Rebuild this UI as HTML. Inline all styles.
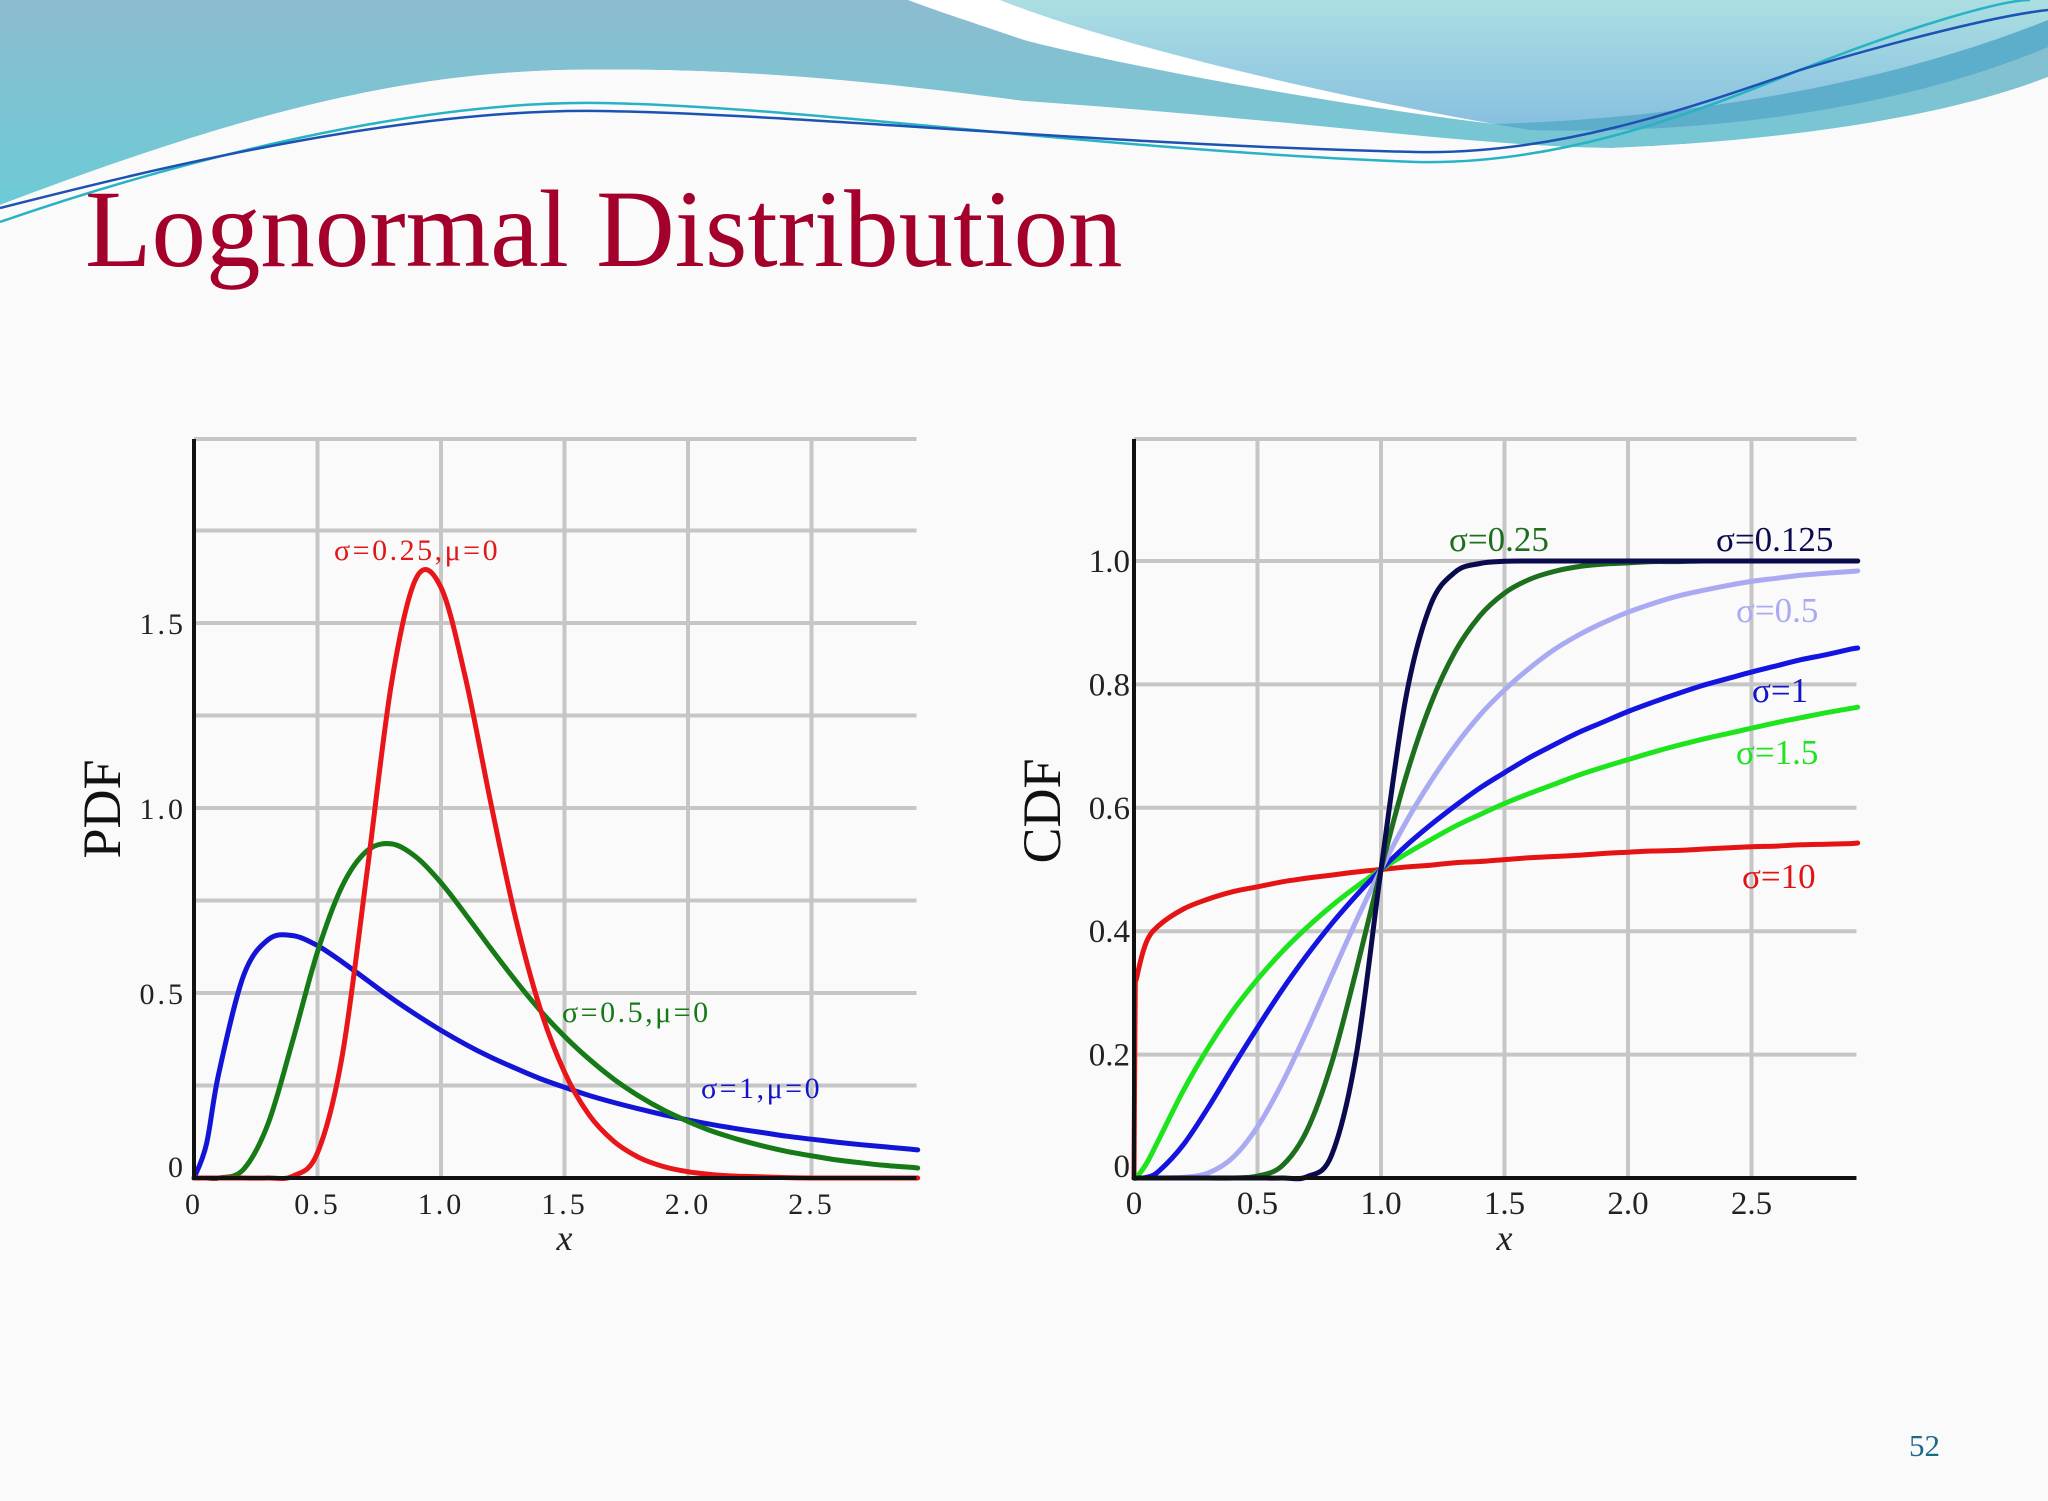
<!DOCTYPE html>
<html><head><meta charset="utf-8"><title>Lognormal Distribution</title>
<style>
html,body{margin:0;padding:0;background:#fafafa;}
#page{position:relative;width:2048px;height:1501px;overflow:hidden;background:#fafafa;font-family:"Liberation Serif",serif;}
svg{position:absolute;left:0;top:0;}
</style></head>
<body>
<div id="page">
<svg id="deco" width="2048" height="1501" viewBox="0 0 2048 1501">
<defs>
<linearGradient id="gTop" x1="0" y1="0" x2="0" y2="1"><stop offset="0" stop-color="#8cbccf"/><stop offset="1" stop-color="#6ccbd6"/></linearGradient>
<linearGradient id="gAqua" x1="0" y1="0" x2="0" y2="1"><stop offset="0" stop-color="#abdfe2"/><stop offset="1" stop-color="#88c0e0"/></linearGradient>
</defs>
<path d="M0,0 L2048,0 L2048,77 C1950,115 1800,140 1612,148 C1480,147 1300,120 1024,101 C900,85 750,66 560,70 C400,75 250,110 0,205 Z" fill="url(#gTop)"/>
<path d="M1000,0 L2048,0 L2048,20 C1850,110 1650,125 1494,124 C1300,90 1100,40 1000,0 Z" fill="url(#gAqua)"/>
<path d="M1494,124 C1700,118 1900,80 2048,20 L2048,47 C1900,110 1700,135 1530,130 Z" fill="#5caecb"/>
<path d="M908,0 L1000,0 C1100,40 1300,90 1494,124 C1300,100 1100,60 1024,40 C980,25 940,12 908,0 Z" fill="#ffffff"/>
<path d="M0,205 C250,110 400,75 560,70 C750,66 900,85 1024,101 C1300,120 1480,147 1612,148 C1800,140 1950,115 2048,77 L2048,300 L0,300 Z" fill="#fafafa"/>
<path d="M0,222 C150,170 400,100 600,103 C800,106 1100,150 1416,162 C1550,165 1680,120 1800,70 C1900,30 2000,0 2030,0" fill="none" stroke="#27b3c4" stroke-width="2.5"/>
<path d="M0,208 C150,170 400,108 600,111 C800,114 1100,145 1416,152 C1550,155 1680,112 1800,70 C1900,40 2000,15 2048,10" fill="none" stroke="#1c52b4" stroke-width="2.5"/>
</svg>
<div style="position:absolute;left:85px;top:164px;font-family:'Liberation Serif',serif;font-size:110px;line-height:130px;color:#a3002b;white-space:nowrap;transform:scaleX(0.99);transform-origin:left;">Lognormal Distribution</div>
<div style="position:absolute;left:1909px;top:1428px;font-family:'Liberation Serif',serif;font-size:31px;color:#1b6a86;">52</div>
<svg id="charts" width="2048" height="1501" viewBox="0 0 2048 1501"></svg>
</div>
<script>
// ---- PDF chart data ----
const pdfX = [0,0.05,0.1,0.2,0.3,0.4,0.5,0.6,0.7,0.8,0.9,1.0,1.1,1.2,1.3,1.4,1.5,1.6,1.7,1.8,1.9,2.0,2.1,2.2,2.3,2.4,2.5,2.6,2.7,2.8,2.9,2.93];
const pdfSigma1 = [0,0.09,0.282,0.546,0.644,0.655,0.628,0.584,0.535,0.486,0.441,0.399,0.361,0.327,0.297,0.269,0.245,0.223,0.204,0.187,0.171,0.157,0.144,0.133,0.123,0.113,0.105,0.097,0.090,0.084,0.078,0.076];
const pdfSigma05 = [0,0,0,0.023,0.147,0.372,0.611,0.789,0.884,0.903,0.867,0.798,0.712,0.622,0.535,0.454,0.383,0.321,0.267,0.222,0.184,0.153,0.126,0.105,0.087,0.072,0.060,0.049,0.041,0.034,0.029,0.027];
const pdfSigma025 = [0,0,0,0,0,0.005,0.068,0.33,0.824,1.339,1.622,1.596,1.349,1.019,0.708,0.461,0.286,0.170,0.099,0.056,0.031,0.017,0.009,0.005,0.003,0.001,0,0,0,0,0,0];
const pdfYTicks = [0,0.5,1.0,1.5];
const pdfYTickLabels = ["0","0.5","1.0","1.5"];
const pdfGridY = [0.25,0.5,0.75,1.0,1.25,1.5,1.75];
const xTicks = [0,0.5,1.0,1.5,2.0,2.5];
const xTickLabels = ["0","0.5","1.0","1.5","2.0","2.5"];
// ---- CDF chart data ----
const cdfX = [0,0.005,0.01,0.05,0.1,0.2,0.3,0.4,0.5,0.6,0.7,0.8,0.9,1.0,1.1,1.2,1.3,1.4,1.5,1.6,1.7,1.8,1.9,2.0,2.1,2.2,2.3,2.4,2.5,2.6,2.7,2.8,2.9,2.93];
const cdfSigma0125 = [0,0,0,0,0,0,0,0,0,0,0.002,0.037,0.2,0.5,0.777,0.928,0.982,0.996,0.9995,1,1,1,1,1,1,1,1,1,1,1,1,1,1,1];
const cdfSigma025 = [0,0,0,0,0,0,0,0,0.003,0.02,0.077,0.186,0.337,0.5,0.649,0.767,0.853,0.911,0.948,0.970,0.983,0.991,0.995,0.997,0.999,0.999,1,1,1,1,1,1,1,1];
const cdfSigma05 = [0,0,0,0,0,0.001,0.008,0.033,0.083,0.154,0.238,0.328,0.417,0.5,0.576,0.642,0.700,0.750,0.791,0.826,0.856,0.880,0.900,0.917,0.931,0.943,0.952,0.960,0.967,0.972,0.977,0.980,0.983,0.984];
const cdfSigma1 = [0,0,0,0.001,0.011,0.054,0.114,0.18,0.244,0.305,0.361,0.412,0.458,0.5,0.538,0.572,0.603,0.632,0.657,0.681,0.702,0.722,0.739,0.756,0.771,0.785,0.798,0.809,0.820,0.830,0.840,0.848,0.857,0.859];
const cdfSigma15 = [0,0,0.001,0.023,0.062,0.142,0.211,0.271,0.322,0.367,0.406,0.441,0.472,0.5,0.525,0.548,0.570,0.589,0.607,0.623,0.638,0.653,0.666,0.678,0.690,0.701,0.711,0.720,0.729,0.738,0.746,0.754,0.761,0.763];
const cdfSigma10 = [0,0.298,0.323,0.382,0.409,0.436,0.452,0.464,0.472,0.48,0.486,0.491,0.496,0.5,0.504,0.507,0.511,0.513,0.516,0.519,0.521,0.523,0.526,0.528,0.530,0.531,0.533,0.535,0.537,0.538,0.540,0.541,0.542,0.543];
const cdfYTicks = [0,0.2,0.4,0.6,0.8,1.0];
const cdfYTickLabels = ["0","0.2","0.4","0.6","0.8","1.0"];
const cdfGridY = [0.2,0.4,0.6,0.8,1.0];

const NS = "http://www.w3.org/2000/svg";
const root = document.getElementById('charts');
function mk(tag, attrs, parent){
  const e = document.createElementNS(NS, tag);
  for (const k in attrs) e.setAttribute(k, attrs[k]);
  (parent||root).appendChild(e);
  return e;
}
function smoothPath(pts){
  let d = "M" + pts[0][0].toFixed(1) + "," + pts[0][1].toFixed(1);
  for (let i=0;i<pts.length-1;i++){
    const p0 = pts[Math.max(0,i-1)], p1 = pts[i], p2 = pts[i+1], p3 = pts[Math.min(pts.length-1,i+2)];
    const c1x = p1[0] + (p2[0]-p0[0])/6, c1y = p1[1] + (p2[1]-p0[1])/6;
    const c2x = p2[0] - (p3[0]-p1[0])/6, c2y = p2[1] - (p3[1]-p1[1])/6;
    d += " C" + c1x.toFixed(1)+","+c1y.toFixed(1)+" "+c2x.toFixed(1)+","+c2y.toFixed(1)+" "+p2[0].toFixed(1)+","+p2[1].toFixed(1);
  }
  return d;
}
function makeChart(cfg){
  const g = mk('g', {});
  
  
  const sx = v => cfg.x0 + v*cfg.kx;
  const sy = v => cfg.y0 - v*cfg.ky;
  const right = sx(cfg.xMax), top = cfg.top;
  // grid
  cfg.gridY.forEach(v => {
    const l = mk('line', {x1:sx(0), x2:right, y1:sy(v), y2:sy(v), stroke:'#c6c6c6', 'stroke-width':4}, g);
    
    
  });
  const tl = mk('line', {x1:sx(0), x2:right, y1:top, y2:top, stroke:'#c6c6c6', 'stroke-width':4}, g);
  
  
  xTicks.slice(1).forEach(v => {
    const l = mk('line', {x1:sx(v), x2:sx(v), y1:top, y2:sy(0), stroke:'#c6c6c6', 'stroke-width':4}, g);
    
    
  });
  // series
  cfg.series.forEach(s => {
    const pts = cfg.xs.map((x,i) => [sx(x), sy(s.values[i])]);
    const p = mk('path', {d:smoothPath(pts), fill:'none', stroke:s.color, 'stroke-width':5, 'stroke-linejoin':'round', 'stroke-linecap':'round'}, g);
    
    
  });
  // axes
  const ya = mk('line', {x1:sx(0), x2:sx(0), y1:top, y2:sy(0)+2, stroke:'#111', 'stroke-width':4}, g);
  
  
  const xa = mk('line', {x1:sx(0)-2, x2:right, y1:sy(0), y2:sy(0), stroke:'#111', 'stroke-width':4}, g);
  
  
  // tick labels
  cfg.yTicks.forEach((v,i) => {
    const t = mk('text', {x:cfg.yLabelX, y:sy(v)+11 - (v===0?12:0), 'text-anchor':'end', 'font-size':cfg.tickSize, 'letter-spacing':cfg.ls, fill:'#222', 'font-family':'Liberation Serif, serif'}, g);
    t.textContent = cfg.yTickLabels[i];
    
    
  });
  xTicks.forEach((v,i) => {
    const t = mk('text', {x:sx(v), y:1214, 'text-anchor':'middle', 'font-size':cfg.tickSize, 'letter-spacing':cfg.ls, fill:'#222', 'font-family':'Liberation Serif, serif'}, g);
    t.textContent = xTickLabels[i];
    
    
  });
  const xt = mk('text', {x:sx(1.5), y:1250, 'text-anchor':'middle', 'font-size':36, 'font-style':'italic', fill:'#222', 'font-family':'Liberation Serif, serif'}, g);
  xt.textContent = 'x';
  
  
  const yt = mk('text', {x:0, y:0, 'text-anchor':'middle', 'font-size':54, fill:'#111', 'font-family':'Liberation Serif, serif', transform:'translate('+(cfg.x0-74)+','+cfg.yTitleY+') rotate(-90)'}, g);
  yt.textContent = cfg.yTitle;
  
  
  cfg.labels.forEach(L => {
    const t = mk('text', {x:L.x, y:L.y, 'font-size':L.size, 'letter-spacing':L.ls||0, fill:L.color, 'font-family':'Liberation Serif, serif'}, g);
    t.textContent = L.text;
    
    
  });
}
makeChart({
  name:'pdf-chart', x0:194, kx:247, y0:1178, ky:370, xMax:2.925, top:439,
  xs:pdfX, gridY:pdfGridY, yTicks:pdfYTicks, yTickLabels:pdfYTickLabels,
  yLabelX:186, tickSize:30, ls:3, yTitle:'PDF', yTitleY:809,
  series:[
    {name:'pdf-sigma-1', color:'#1414d6', values:pdfSigma1},
    {name:'pdf-sigma-0.5', color:'#167a16', values:pdfSigma05},
    {name:'pdf-sigma-0.25', color:'#e8161a', values:pdfSigma025}
  ],
  labels:[
    {name:'label-sigma-0.25', text:'σ=0.25,μ=0', x:334, y:560, size:30, ls:2.5, color:'#e01818'},
    {name:'label-sigma-0.5', text:'σ=0.5,μ=0', x:562, y:1022, size:30, ls:2.5, color:'#167a16'},
    {name:'label-sigma-1', text:'σ=1,μ=0', x:701, y:1098, size:30, ls:2.5, color:'#1414c8'}
  ]
});
makeChart({
  name:'cdf-chart', x0:1134, kx:247, y0:1178, ky:617, xMax:2.925, top:439,
  xs:cdfX, gridY:cdfGridY, yTicks:cdfYTicks, yTickLabels:cdfYTickLabels,
  yLabelX:1130, tickSize:33, ls:0, yTitle:'CDF', yTitleY:811,
  series:[
    {name:'cdf-sigma-10', color:'#e41414', values:cdfSigma10},
    {name:'cdf-sigma-1.5', color:'#1ee41e', values:cdfSigma15},
    {name:'cdf-sigma-1', color:'#1414e0', values:cdfSigma1},
    {name:'cdf-sigma-0.5', color:'#aaaaf2', values:cdfSigma05},
    {name:'cdf-sigma-0.25', color:'#1d6e1d', values:cdfSigma025},
    {name:'cdf-sigma-0.125', color:'#0a0a4e', values:cdfSigma0125}
  ],
  labels:[
    {name:'label-sigma-0.25', text:'σ=0.25', x:1449, y:551, size:35, color:'#1d6e1d'},
    {name:'label-sigma-0.125', text:'σ=0.125', x:1716, y:551, size:35, color:'#0a0a4e'},
    {name:'label-sigma-0.5', text:'σ=0.5', x:1736, y:622, size:35, color:'#aaaaf2'},
    {name:'label-sigma-1', text:'σ=1', x:1752, y:702, size:35, color:'#1414c8'},
    {name:'label-sigma-1.5', text:'σ=1.5', x:1736, y:764, size:35, color:'#1ee41e'},
    {name:'label-sigma-10', text:'σ=10', x:1742, y:888, size:35, color:'#e01414'}
  ]
});
</script>
</body></html>
